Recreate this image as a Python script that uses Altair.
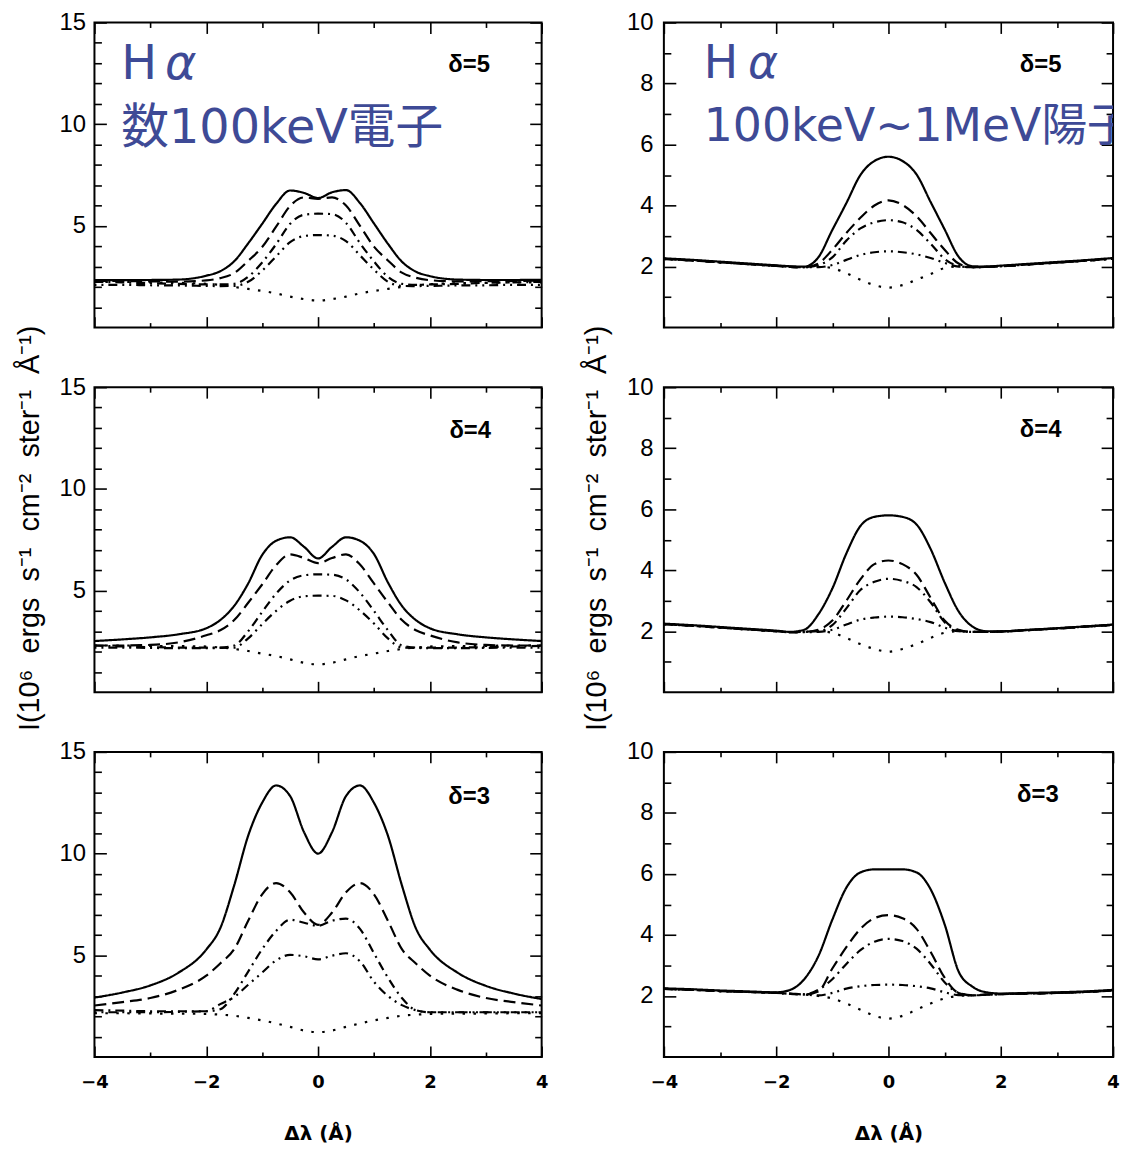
import altair as alt
import pandas as pd

# ---------------- data ----------------
X = [-4, -3.5, -3, -2.5, -2, -1.75, -1.5, -1.25, -1, -0.75, -0.5, -0.25, 0,
     0.25, 0.5, 0.75, 1, 1.25, 1.5, 1.75, 2, 2.5, 3, 3.5, 4]
SERIES = ["solid", "dashed", "dashdot", "dashdotdot", "dotted"]

# left column (electrons)
LT_SOLID = [2.33, 2.33, 2.34, 2.36, 2.55, 2.77, 3.26, 4.14, 5.10, 6.08, 6.74, 6.62, 6.37, 6.65, 6.76, 6.12, 5.12, 4.12, 3.24, 2.75, 2.53, 2.36, 2.34, 2.34, 2.35]
LT_DASH = [2.30, 2.29, 2.27, 2.26, 2.32, 2.43, 2.68, 3.28, 3.96, 4.96, 5.98, 6.40, 6.33, 6.40, 6.00, 5.00, 3.98, 3.30, 2.70, 2.45, 2.33, 2.27, 2.28, 2.29, 2.31]
LT_DD = [2.25, 2.22, 2.18, 2.15, 2.12, 2.12, 2.15, 2.50, 3.20, 4.10, 5.10, 5.55, 5.60, 5.58, 5.15, 4.15, 3.25, 2.50, 2.15, 2.10, 2.12, 2.15, 2.20, 2.22, 2.25]
LT_DDD = [2.10, 2.10, 2.08, 2.07, 2.05, 2.04, 2.05, 2.25, 2.80, 3.50, 4.20, 4.50, 4.55, 4.52, 4.25, 3.55, 2.85, 2.25, 2.05, 2.04, 2.05, 2.07, 2.08, 2.10, 2.10]
LT_DOT = [2.25, 2.25, 2.22, 2.20, 2.15, 2.10, 2.00, 1.90, 1.80, 1.68, 1.52, 1.40, 1.33, 1.40, 1.52, 1.68, 1.80, 1.90, 2.00, 2.08, 2.13, 2.18, 2.20, 2.22, 2.22]

LM_SOLID = [2.52, 2.60, 2.70, 2.85, 3.15, 3.55, 4.25, 5.35, 6.75, 7.45, 7.62, 7.15, 6.58, 7.15, 7.62, 7.45, 6.80, 5.40, 4.25, 3.55, 3.15, 2.85, 2.70, 2.60, 2.52]
LM_DASH = [2.30, 2.30, 2.33, 2.45, 2.80, 3.05, 3.55, 4.40, 5.30, 6.25, 6.78, 6.60, 6.35, 6.60, 6.78, 6.28, 5.35, 4.42, 3.55, 3.05, 2.80, 2.45, 2.33, 2.30, 2.30]
LM_DD = [2.30, 2.25, 2.22, 2.20, 2.20, 2.20, 2.30, 3.00, 3.95, 4.85, 5.50, 5.75, 5.80, 5.78, 5.55, 4.90, 4.00, 3.05, 2.30, 2.20, 2.20, 2.20, 2.22, 2.25, 2.28]
LM_DDD = [2.20, 2.20, 2.18, 2.17, 2.17, 2.18, 2.20, 2.65, 3.35, 4.00, 4.50, 4.72, 4.75, 4.74, 4.52, 4.02, 3.38, 2.65, 2.20, 2.18, 2.17, 2.17, 2.18, 2.20, 2.20]
LM_DOT = [2.30, 2.30, 2.28, 2.27, 2.25, 2.20, 2.13, 2.03, 1.90, 1.78, 1.62, 1.45, 1.37, 1.45, 1.62, 1.78, 1.90, 2.03, 2.13, 2.20, 2.25, 2.27, 2.28, 2.30, 2.30]

LB_SOLID = [2.92, 3.17, 3.52, 4.14, 5.28, 6.33, 8.44, 10.88, 12.50, 13.35, 12.83, 11.05, 10.00, 11.05, 12.83, 13.35, 12.50, 10.88, 8.44, 6.33, 5.28, 4.14, 3.50, 3.12, 2.85]
LB_DASH = [2.53, 2.70, 2.90, 3.30, 4.00, 4.60, 5.30, 6.70, 8.00, 8.55, 8.10, 7.10, 6.50, 7.10, 8.10, 8.55, 8.00, 6.70, 5.30, 4.60, 4.00, 3.30, 2.90, 2.70, 2.53]
LB_DD = [2.30, 2.28, 2.25, 2.25, 2.25, 2.35, 3.10, 4.20, 5.30, 6.20, 6.75, 6.60, 6.45, 6.70, 6.80, 6.30, 5.10, 3.90, 2.90, 2.30, 2.20, 2.20, 2.20, 2.20, 2.20]
LB_DDD = [2.20, 2.20, 2.20, 2.22, 2.25, 2.60, 2.95, 3.55, 4.15, 4.75, 5.02, 4.95, 4.80, 4.98, 5.10, 4.70, 3.70, 3.00, 2.55, 2.30, 2.20, 2.20, 2.20, 2.20, 2.20]
LB_DOT = [2.15, 2.15, 2.14, 2.13, 2.12, 2.08, 2.03, 1.92, 1.80, 1.65, 1.48, 1.30, 1.22, 1.30, 1.48, 1.65, 1.80, 1.92, 2.03, 2.08, 2.12, 2.13, 2.14, 2.15, 2.15]

# right column (protons)
RT_SOLID = [2.27, 2.22, 2.16, 2.10, 2.04, 2.01, 2.00, 2.30, 3.20, 4.08, 5.00, 5.46, 5.60, 5.46, 5.02, 4.12, 3.22, 2.32, 2.01, 2.00, 2.03, 2.09, 2.15, 2.21, 2.28]
RT_DASH = [2.25, 2.20, 2.14, 2.08, 2.02, 1.99, 1.98, 2.10, 2.55, 3.10, 3.60, 4.00, 4.17, 4.02, 3.65, 3.10, 2.55, 2.10, 1.98, 1.99, 2.01, 2.07, 2.13, 2.19, 2.26]
RT_DD = [2.25, 2.20, 2.14, 2.08, 2.02, 1.99, 1.98, 2.05, 2.30, 2.85, 3.25, 3.45, 3.52, 3.45, 3.20, 2.75, 2.25, 2.02, 1.98, 1.99, 2.01, 2.07, 2.13, 2.19, 2.26]
RT_DDD = [2.25, 2.20, 2.14, 2.08, 2.02, 1.99, 1.98, 1.98, 2.05, 2.22, 2.38, 2.47, 2.50, 2.47, 2.40, 2.28, 2.12, 2.00, 1.98, 1.99, 2.01, 2.07, 2.13, 2.19, 2.26]
RT_DOT = [2.25, 2.20, 2.14, 2.08, 2.02, 1.99, 1.98, 2.00, 1.95, 1.78, 1.57, 1.39, 1.31, 1.39, 1.57, 1.75, 1.95, 2.00, 1.98, 1.99, 2.01, 2.07, 2.13, 2.19, 2.26]

RM_SOLID = [2.25, 2.20, 2.14, 2.08, 2.02, 1.98, 2.05, 2.55, 3.40, 4.55, 5.45, 5.75, 5.80, 5.75, 5.50, 4.70, 3.60, 2.65, 2.15, 2.00, 2.00, 2.05, 2.10, 2.16, 2.22]
RM_DASH = [2.23, 2.18, 2.12, 2.06, 2.00, 1.97, 1.98, 2.05, 2.35, 3.00, 3.70, 4.20, 4.32, 4.20, 3.85, 3.10, 2.35, 2.05, 1.98, 1.98, 1.99, 2.04, 2.09, 2.15, 2.21]
RM_DD = [2.23, 2.18, 2.12, 2.06, 2.00, 1.97, 1.98, 2.00, 2.20, 2.75, 3.35, 3.62, 3.72, 3.65, 3.45, 2.95, 2.30, 2.02, 1.98, 1.98, 1.99, 2.04, 2.09, 2.15, 2.21]
RM_DDD = [2.23, 2.18, 2.12, 2.06, 2.00, 1.97, 1.97, 1.98, 2.05, 2.22, 2.38, 2.45, 2.48, 2.46, 2.40, 2.30, 2.12, 2.00, 1.98, 1.98, 1.99, 2.04, 2.09, 2.15, 2.21]
RM_DOT = [2.23, 2.18, 2.12, 2.06, 2.00, 1.97, 1.98, 2.00, 1.95, 1.78, 1.58, 1.42, 1.33, 1.42, 1.58, 1.78, 1.95, 2.00, 1.98, 1.98, 1.99, 2.04, 2.09, 2.15, 2.21]

RB_SOLID = [2.25, 2.22, 2.18, 2.15, 2.12, 2.20, 2.55, 3.30, 4.50, 5.55, 6.05, 6.15, 6.15, 6.15, 6.05, 5.50, 4.35, 2.80, 2.30, 2.12, 2.08, 2.10, 2.12, 2.15, 2.20]
RB_DASH = [2.23, 2.20, 2.16, 2.13, 2.10, 2.08, 2.05, 2.15, 2.90, 3.60, 4.20, 4.55, 4.65, 4.55, 4.20, 3.45, 2.60, 2.10, 2.02, 2.05, 2.06, 2.08, 2.10, 2.13, 2.18]
RB_DD = [2.23, 2.20, 2.16, 2.13, 2.10, 2.07, 2.05, 2.20, 2.55, 3.05, 3.50, 3.78, 3.87, 3.80, 3.55, 3.05, 2.45, 2.10, 2.02, 2.04, 2.06, 2.08, 2.10, 2.13, 2.18]
RB_DDD = [2.23, 2.20, 2.16, 2.13, 2.10, 2.07, 2.05, 2.02, 2.10, 2.24, 2.32, 2.36, 2.37, 2.36, 2.32, 2.25, 2.12, 2.03, 2.02, 2.04, 2.06, 2.08, 2.10, 2.13, 2.18]
RB_DOT = [2.23, 2.20, 2.16, 2.13, 2.10, 2.07, 2.05, 2.00, 1.92, 1.75, 1.55, 1.35, 1.26, 1.35, 1.55, 1.75, 1.92, 2.00, 2.02, 2.04, 2.06, 2.08, 2.10, 2.13, 2.18]

# tick values and texts
X_MAJOR = [-4, -2, 0, 2, 4]
X_MINOR = [-3, -1, 1, 3]
LEFT_Y_MAJOR = [5, 10, 15]
LEFT_Y_MINOR = [1, 2, 3, 4, 6, 7, 8, 9, 11, 12, 13, 14]
RIGHT_Y_MAJOR = [2, 4, 6, 8, 10]
RIGHT_Y_MINOR = [1, 3, 5, 7, 9]
DELTAS = ["δ=5", "δ=4", "δ=3"]
X_TITLE = "Δλ (Å)"
Y_TITLE = "I(10⁶\u00a0 ergs\u00a0 s⁻¹\u00a0 cm⁻²\u00a0 ster⁻¹\u00a0 Å⁻¹)"
LEFT_HEAD = ["H", "α", "数100keV電子"]
RIGHT_HEAD = ["H", "α", "100keV~1MeV陽子"]

# ---------------- styling ----------------
DASHES = [[1, 0], [12, 6], [9, 5, 2, 5], [2, 5, 2, 5, 9, 5], [2.5, 8.5]]
BLUE = "#3e4a96"
W_L, W_R, H = 450, 452, 307


def frame(series_lists):
    rows = []
    for name, vals in zip(SERIES, series_lists):
        for xv, yv in zip(X, vals):
            rows.append({"x": xv, "y": yv, "series": name})
    return pd.DataFrame(rows)


def tick_axis(orient, values, size, **kw):
    return alt.Axis(orient=orient, values=values, tickSize=size, offset=-size,
                    domain=False, grid=False, ticks=True, tickColor="black",
                    tickWidth=1.6, labelFlush=False, labelOverlap=False,
                    minExtent=0, **kw)


def text_layer(label, xv, yv, size, color="black", font="Liberation Sans",
               weight="normal", style="normal"):
    d = pd.DataFrame({"x": [xv], "y": [yv], "label": [label]})
    return alt.Chart(d).mark_text(
        align="left", baseline="middle", fontSize=size, color=color, font=font,
        fontWeight=weight, fontStyle=style, clip=True
    ).encode(
        x=alt.X("x:Q", axis=None),
        y=alt.Y("y:Q", axis=None),
        text="label:N",
    )


def panel(df, width, ymax, ymaj, ymin, ylabpad, ytitlepad, delta, dpos,
          bottom, ytitle, head=None, head_pos=None, head_size=48):
    xs = alt.Scale(domain=[-4, 4], nice=False, zero=False)
    ys = alt.Scale(domain=[0, ymax], nice=False, zero=False)
    x_main = tick_axis("bottom", X_MAJOR, 11, labels=bottom, labelPadding=17,
                       title=X_TITLE if bottom else None, titlePadding=32)
    if ytitle:
        y_main = tick_axis("left", ymaj, 12, labels=True, labelPadding=ylabpad,
                           title=Y_TITLE, titlePadding=ytitlepad, titleY=H / 2 - 12)
    else:
        y_main = tick_axis("left", ymaj, 12, labels=True, labelPadding=ylabpad, title=None)
    lines = alt.Chart(df).mark_line(
        interpolate="monotone", color="black", strokeWidth=2.2, clip=True
    ).encode(
        x=alt.X("x:Q", scale=xs, axis=x_main),
        y=alt.Y("y:Q", scale=ys, axis=y_main),
        strokeDash=alt.StrokeDash("series:N", scale=alt.Scale(domain=SERIES, range=DASHES),
                                  legend=None),
        detail="series:N",
    )
    ghost = alt.Chart(df).mark_point(opacity=0, size=1)
    t2 = ghost.encode(
        x=alt.X("x:Q", axis=tick_axis("bottom", X_MINOR, 5, labels=False, title=None)),
        y=alt.Y("y:Q", axis=tick_axis("left", ymin, 7, labels=False, title=None)),
    )
    t3 = ghost.encode(
        x=alt.X("x:Q", axis=tick_axis("top", X_MAJOR, 11, labels=False, title=None)),
        y=alt.Y("y:Q", axis=tick_axis("right", ymaj, 12, labels=False, title=None)),
    )
    t4 = ghost.encode(
        x=alt.X("x:Q", axis=tick_axis("top", X_MINOR, 5, labels=False, title=None)),
        y=alt.Y("y:Q", axis=tick_axis("right", ymin, 7, labels=False, title=None)),
    )
    layers = [lines, t2, t3, t4,
              text_layer(delta, dpos[0], dpos[1], 24, weight="bold")]
    if head is not None:
        fam = "DejaVu Sans, Noto Sans CJK JP"
        layers.append(text_layer(head[0], head_pos[0][0], head_pos[0][1], head_size, BLUE, fam))
        layers.append(text_layer(head[1], head_pos[1][0], head_pos[1][1], head_size, BLUE, fam,
                                 style="italic"))
        layers.append(text_layer(head[2], head_pos[2][0], head_pos[2][1], head_size, BLUE, fam))
    return alt.layer(*layers).resolve_axis(x="independent", y="independent").properties(
        width=width, height=H)


lt = panel(frame([LT_SOLID, LT_DASH, LT_DD, LT_DDD, LT_DOT]), W_L, 15, LEFT_Y_MAJOR, LEFT_Y_MINOR,
           9, 15, DELTAS[0], (2.33, 12.9), False, False,
           LEFT_HEAD, [(-3.52, 12.9), (-2.74, 12.9), (-3.52, 9.74)], 48)
lm = panel(frame([LM_SOLID, LM_DASH, LM_DD, LM_DDD, LM_DOT]), W_L, 15, LEFT_Y_MAJOR, LEFT_Y_MINOR,
           9, 15, DELTAS[1], (2.35, 12.85), False, True)
lb = panel(frame([LB_SOLID, LB_DASH, LB_DD, LB_DDD, LB_DOT]), W_L, 15, LEFT_Y_MAJOR, LEFT_Y_MINOR,
           9, 15, DELTAS[2], (2.33, 12.8), True, False)

rt = panel(frame([RT_SOLID, RT_DASH, RT_DD, RT_DDD, RT_DOT]), W_R, 10, RIGHT_Y_MAJOR, RIGHT_Y_MINOR,
           11, 15, DELTAS[0], (2.34, 8.6), False, False,
           RIGHT_HEAD, [(-3.29, 8.63), (-2.5, 8.63), (-3.29, 6.58)], 46)
rm = panel(frame([RM_SOLID, RM_DASH, RM_DD, RM_DDD, RM_DOT]), W_R, 10, RIGHT_Y_MAJOR, RIGHT_Y_MINOR,
           11, 15, DELTAS[1], (2.34, 8.6), False, True)
rb = panel(frame([RB_SOLID, RB_DASH, RB_DD, RB_DDD, RB_DOT]), W_R, 10, RIGHT_Y_MAJOR, RIGHT_Y_MINOR,
           11, 15, DELTAS[2], (2.29, 8.6), True, False)

chart = alt.concat(
    lt, rt, lm, rm, lb, rb, columns=2, spacing={"row": 60, "column": 123}, bounds="flush"
).properties(
    padding={"left": 6, "top": -2, "right": 0, "bottom": 0}
).configure_view(
    stroke="black", strokeWidth=2
).configure_axis(
    labelColor="black", titleColor="black",
    labelFont="Liberation Sans", labelFontSize=24,
    titleFont="Liberation Sans", titleFontSize=29, titleFontWeight="normal",
).configure_axisBottom(
    labelFont="DejaVu Sans", labelFontWeight="bold", labelFontSize=18,
    titleFont="DejaVu Sans", titleFontWeight="bold", titleFontSize=20,
)

chart.save("out.html", embed_options={"renderer": "svg", "actions": False})
